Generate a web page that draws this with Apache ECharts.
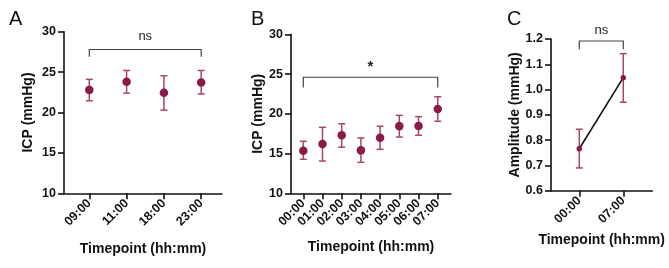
<!DOCTYPE html>
<html>
<head>
<meta charset="utf-8">
<script src="https://cdn.jsdelivr.net/npm/echarts@6/dist/echarts.min.js"></script>
<style>html,body{margin:0;padding:0;background:#fff}#c{width:669px;height:268px}</style>
</head>
<body>
<div id="c"></div>
<script>
// Panel A
const catsA = ['09:00', '11:00', '18:00', '23:00'];
const meanA = [22.8, 23.8, 22.45, 23.7];
const lowA  = [21.45, 22.4, 20.3, 22.3];
const highA = [24.1, 25.2, 24.55, 25.2];
// Panel B
const catsB = ['00:00', '01:00', '02:00', '03:00', '04:00', '05:00', '06:00', '07:00'];
const meanB = [15.36, 16.2, 17.3, 15.4, 17.0, 18.45, 18.47, 20.6];
const lowB  = [14.28, 14.06, 15.8, 13.9, 15.53, 17.08, 17.3, 19.06];
const highB = [16.54, 18.3, 18.75, 16.96, 18.43, 19.8, 19.64, 22.15];
// Panel C
const catsC = ['00:00', '07:00'];
const meanC = [0.766, 1.047];
const lowC  = [0.69, 0.95];
const highC = [0.843, 1.142];
// Y ticks
const yTicksICP = [10, 15, 20, 25, 30];
const yTicksAmp = [0.6, 0.7, 0.8, 0.9, 1.0, 1.1, 1.2];
// significance brackets: [fromIndex, toIndex, barY, legY, label]
const sigA = [[0, 3, 27.8, 26.9, 'ns']];
const sigB = [[0, 7, 24.6, 23.3, '*']];
const sigC = [[0, 1, 1.192, 1.159, 'ns']];

const FONT = '"Liberation Sans", Arial, sans-serif';
const DOT = '#8a1a48';
const ERR = '#a9446f';

function idx(arr) { return arr.map((_, i) => i); }

function errSeries(gi, mean, low, high, cap) {
  return {
    type: 'custom', xAxisIndex: gi, yAxisIndex: gi, z: 2,
    data: mean.map((m, i) => [i, low[i], high[i]]),
    renderItem: function (params, api) {
      const x = api.value(0);
      const p1 = api.coord([x, api.value(1)]);
      const p2 = api.coord([x, api.value(2)]);
      const st = { stroke: ERR, lineWidth: 1.5 };
      return { type: 'group', children: [
        { type: 'line', shape: { x1: p1[0], y1: p1[1], x2: p2[0], y2: p2[1] }, style: st },
        { type: 'line', shape: { x1: p1[0] - cap, y1: p1[1], x2: p1[0] + cap, y2: p1[1] }, style: st },
        { type: 'line', shape: { x1: p2[0] - cap, y1: p2[1], x2: p2[0] + cap, y2: p2[1] }, style: st }
      ]};
    }
  };
}

function sigSeries(gi, sig, textOffset, fontSize) {
  return {
    type: 'custom', xAxisIndex: gi, yAxisIndex: gi, clip: false, z: 3,
    data: sig,
    renderItem: function (params, api) {
      const s = sig[params.dataIndex];
      const a = api.coord([s[0], s[2]]);
      const b = api.coord([s[1], s[2]]);
      const la = api.coord([s[0], s[3]]);
      const st = { stroke: '#444', lineWidth: 1.2, fill: null };
      return { type: 'group', children: [
        { type: 'polyline', shape: { points: [[la[0], la[1]], [a[0], a[1]], [b[0], b[1]], [b[0], la[1]]] }, style: st },
        { type: 'text', style: { text: s[4], x: (a[0] + b[0]) / 2, y: a[1] - textOffset,
          align: 'center', verticalAlign: 'middle', fill: '#222',
          font: (s[4] === '*' ? 'bold ' : '') + fontSize + 'px ' + FONT } }
      ]};
    }
  };
}

function xAxis(gi, cats, min, max, gap) {
  return {
    type: 'value', gridIndex: gi, min: min, max: max,
    name: 'Timepoint (hh:mm)', nameLocation: 'middle', nameGap: gap,
    nameTextStyle: { fontFamily: FONT, fontWeight: 'bold', fontSize: 14, color: '#111', verticalAlign: 'top' },
    axisLine: { show: true, onZero: false, lineStyle: { color: '#111', width: 1.6 } },
    axisTick: { show: true, length: 6, customValues: idx(cats), lineStyle: { color: '#111', width: 1.6 } },
    axisLabel: { customValues: idx(cats), rotate: 45, margin: 8, formatter: v => cats[Math.round(v)],
      fontFamily: FONT, fontWeight: 'bold', fontSize: 12.5, color: '#111' },
    splitLine: { show: false }
  };
}

function yAxis(gi, name, ticks, gap, dec) {
  return {
    type: 'value', gridIndex: gi, min: ticks[0], max: ticks[ticks.length - 1],
    interval: Math.round((ticks[1] - ticks[0]) * 1000) / 1000,
    name: name, nameLocation: 'middle', nameGap: gap, nameRotate: 90,
    nameTextStyle: { fontFamily: FONT, fontWeight: 'bold', fontSize: 14, color: '#111' },
    axisLine: { show: true, onZero: false, lineStyle: { color: '#111', width: 1.6 } },
    axisTick: { show: true, length: 6, lineStyle: { color: '#111', width: 1.6 } },
    axisLabel: { margin: 8, formatter: v => v.toFixed(dec), fontFamily: FONT, fontWeight: 'bold', fontSize: 12.5, color: '#111' },
    splitLine: { show: false }
  };
}

const chart = echarts.init(document.getElementById('c'), null, { renderer: 'canvas' });
chart.setOption({
  animation: false,
  backgroundColor: '#fff',
  title: [
    { text: 'A', left: 4, top: 4, textStyle: { fontFamily: FONT, fontWeight: 'normal', fontSize: 20, color: '#111' } },
    { text: 'B', left: 246, top: 4, textStyle: { fontFamily: FONT, fontWeight: 'normal', fontSize: 20, color: '#111' } },
    { text: 'C', left: 502, top: 4, textStyle: { fontFamily: FONT, fontWeight: 'normal', fontSize: 20, color: '#111' } }
  ],
  grid: [
    { left: 64, top: 31.7, width: 158, height: 161.6 },
    { left: 291, top: 34.3, width: 160, height: 159 },
    { left: 551, top: 39, width: 101.3, height: 151.7 }
  ],
  xAxis: [
    xAxis(0, catsA, -0.678, 3.557, 49),
    xAxis(1, catsB, -0.64, 7.69, 47),
    xAxis(2, catsC, -0.643, 1.66, 42)
  ],
  yAxis: [
    yAxis(0, 'ICP (mmHg)', yTicksICP, 29, 0),
    yAxis(1, 'ICP (mmHg)', yTicksICP, 26, 0),
    yAxis(2, 'Amplitude (mmHg)', yTicksAmp, 28, 1)
  ],
  series: [
    errSeries(0, meanA, lowA, highA, 3.5),
    { type: 'scatter', xAxisIndex: 0, yAxisIndex: 0, z: 4, symbolSize: 8.5, itemStyle: { color: DOT, opacity: 1 },
      data: meanA.map((v, i) => [i, v]) },
    sigSeries(0, sigA, 13, 13),
    errSeries(1, meanB, lowB, highB, 3.5),
    { type: 'scatter', xAxisIndex: 1, yAxisIndex: 1, z: 4, symbolSize: 8.5, itemStyle: { color: DOT, opacity: 1 },
      data: meanB.map((v, i) => [i, v]) },
    sigSeries(1, sigB, 10, 15),
    errSeries(2, meanC, lowC, highC, 3.5),
    { type: 'line', xAxisIndex: 2, yAxisIndex: 2, z: 3, symbol: 'none', lineStyle: { color: '#111', width: 1.6 },
      data: meanC.map((v, i) => [i, v]) },
    { type: 'scatter', xAxisIndex: 2, yAxisIndex: 2, z: 4, symbolSize: 5.5, itemStyle: { color: DOT, opacity: 1 },
      data: meanC.map((v, i) => [i, v]) },
    sigSeries(2, sigC, 11, 13)
  ]
});
</script>
</body>
</html>
